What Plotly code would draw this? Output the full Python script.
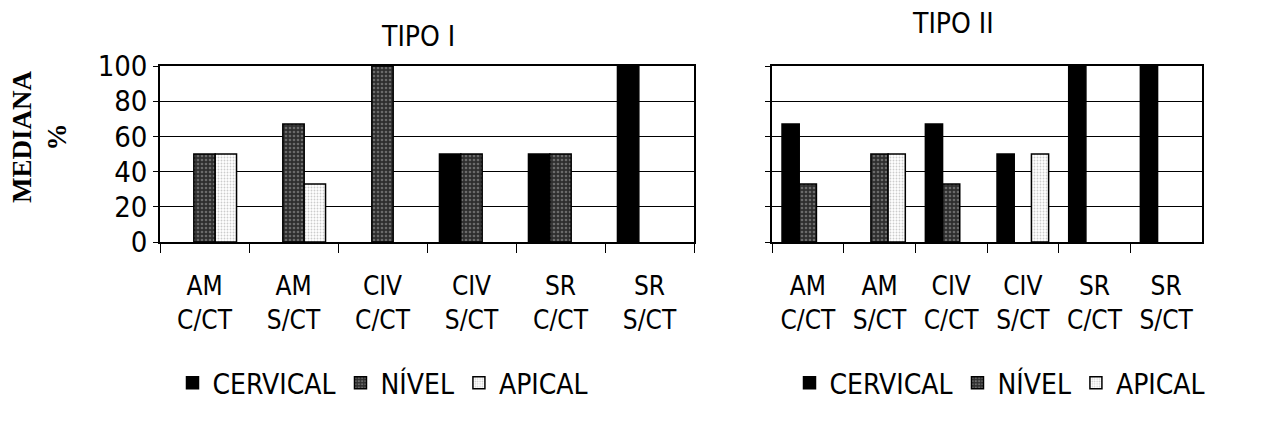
import plotly.graph_objects as go

# Categories (material / técnica) and medians per root third
categorias = ["AM<br>C/CT", "AM<br>S/CT", "CIV<br>C/CT", "CIV<br>S/CT", "SR<br>C/CT", "SR<br>S/CT"]
series = ["CERVICAL", "NÍVEL", "APICAL"]

tipo1_cervical = [0, 0, 0, 50, 50, 100]
tipo1_nivel = [50, 67, 100, 50, 50, 0]
tipo1_apical = [50, 33, 0, 0, 0, 0]

tipo2_cervical = [67, 0, 67, 50, 100, 100]
tipo2_nivel = [33, 50, 33, 0, 0, 0]
tipo2_apical = [0, 50, 0, 50, 0, 0]

y_ticks = [0, 20, 40, 60, 80, 100]

FONT = "Liberation Sans Narrow, DejaVu Sans Condensed, Arial, sans-serif"
OUTLINE = 1.5

styles = {
    "CERVICAL": dict(color="#000000"),
    "NÍVEL": dict(color="#2e2e2e",
                  pattern=dict(shape=".", fgcolor="#a8a8a8", size=4, solidity=0.35)),
    "APICAL": dict(color="#ffffff",
                   pattern=dict(shape=".", fgcolor="#9a9a9a", size=3, solidity=0.3)),
}

fig = go.Figure()

panels = [
    ("x", "y", "legend", "p1", [tipo1_cervical, tipo1_nivel, tipo1_apical]),
    ("x2", "y2", "legend2", "p2", [tipo2_cervical, tipo2_nivel, tipo2_apical]),
]
for xa, ya, leg, grp, vals in panels:
    for name, v in zip(series, vals):
        # empty bars get no outline so nothing is drawn at zero
        fig.add_trace(go.Bar(
            x=categorias, y=v, name=name, xaxis=xa, yaxis=ya, showlegend=False,
            offsetgroup=name, alignmentgroup=grp,
            marker=dict(**styles[name],
                        line=dict(color="black", width=[OUTLINE if val else 0 for val in v])),
            hoverinfo="skip",
        ))
        # legend key with a uniform outline, sharing the series' slot
        fig.add_trace(go.Bar(
            x=[categorias[0]], y=[None], name=name, xaxis=xa, yaxis=ya, legend=leg,
            offsetgroup=name, alignmentgroup=grp,
            marker=dict(**styles[name], line=dict(color="black", width=OUTLINE)),
            hoverinfo="skip",
        ))

xcommon = dict(
    type="category", showgrid=False, showline=True, linecolor="black", linewidth=1.5,
    mirror=True, ticks="outside", tickson="boundaries", ticklen=9, tickcolor="black",
    tickfont=dict(family=FONT, size=26, color="black"), ticklabelstandoff=20,
    automargin=False,
)
ycommon = dict(
    range=[0, 100], tickvals=y_ticks, showgrid=True, gridcolor="black", gridwidth=1,
    showline=True, linecolor="black", linewidth=1.5, mirror=True,
    ticks="outside", ticklen=5, tickcolor="black", zeroline=False, automargin=False,
)

H = 429
W = 1277
legend_common = dict(
    orientation="h", xref="container", yref="container", y=(H - 383) / H,
    xanchor="center", yanchor="middle",
    font=dict(family=FONT, size=28, color="black"), itemwidth=30,
    tracegroupgap=0, bgcolor="rgba(0,0,0,0)",
)
fig.update_layout(
    width=W, height=H,
    margin=dict(l=0, r=0, t=0, b=0, autoexpand=False),
    paper_bgcolor="white", plot_bgcolor="white",
    barmode="group", bargap=0.28, bargroupgap=0,
    xaxis=dict(domain=[160 / W, 694 / W], anchor="y", **xcommon),
    xaxis2=dict(domain=[772 / W, 1202 / W], anchor="y2", **xcommon),
    yaxis=dict(domain=[(H - 242) / H, (H - 66) / H], anchor="x",
               tickfont=dict(family=FONT, size=29, color="black"), **ycommon),
    yaxis2=dict(domain=[(H - 242) / H, (H - 66) / H], anchor="x2",
                showticklabels=False, **ycommon),
    legend=dict(x=383 / W, **legend_common),
    legend2=dict(x=1000 / W, **legend_common),
    annotations=[
        dict(text="TIPO I", x=418 / W, y=(H - 36) / H, xref="paper", yref="paper",
             showarrow=False, font=dict(family=FONT, size=28, color="black"),
             xanchor="center", yanchor="middle"),
        dict(text="TIPO II", x=953 / W, y=(H - 24) / H, xref="paper", yref="paper",
             showarrow=False, font=dict(family=FONT, size=28, color="black"),
             xanchor="center", yanchor="middle"),
        dict(text="MEDIANA<br>%", x=40 / W, y=(H - 137) / H, xref="paper", yref="paper",
             showarrow=False, textangle=-90,
             font=dict(family="Liberation Serif, Times New Roman, serif", size=27,
                       color="black", weight="bold"),
             xanchor="center", yanchor="middle"),
    ],
)

fig.write_html("out.html")
